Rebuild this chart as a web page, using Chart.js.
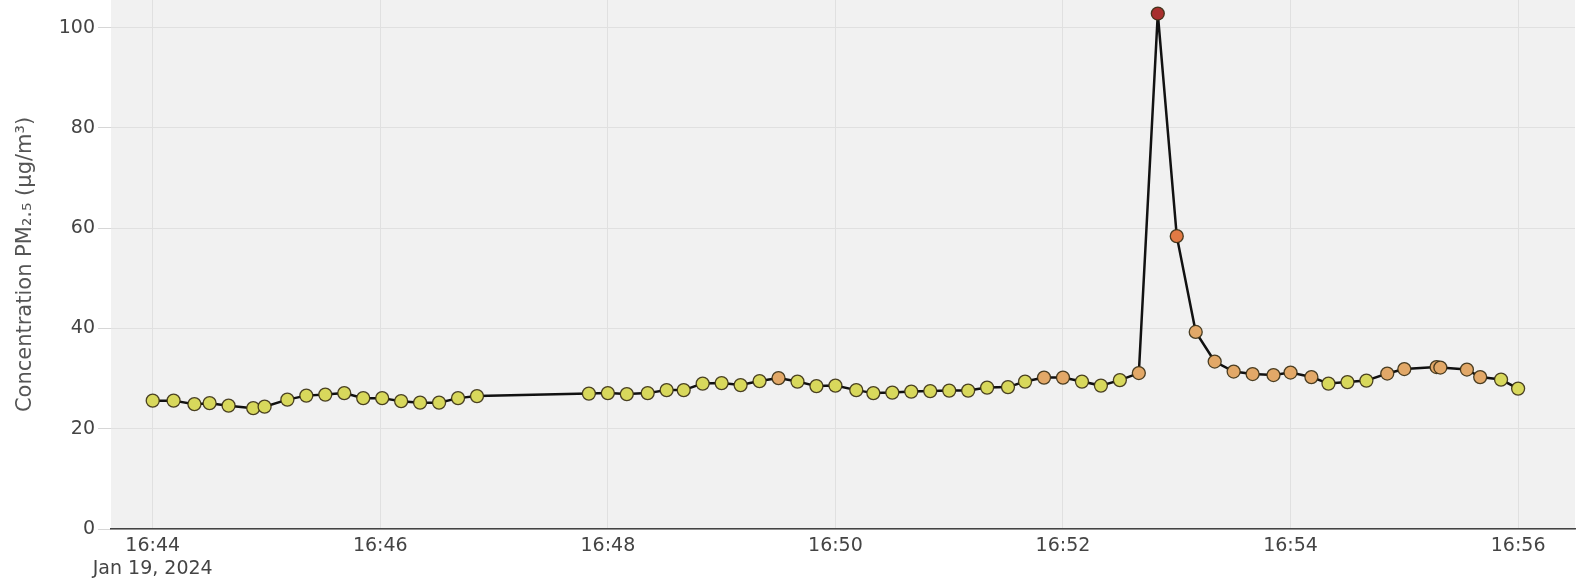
<!DOCTYPE html>
<html>
<head>
<meta charset="utf-8">
<script src="https://cdn.jsdelivr.net/npm/chart.js@4.4.1/dist/chart.umd.min.js"></script>
<style>
  html, body { margin: 0; padding: 0; background: #fff; }
  #wrap { width: 1585px; height: 585px; }
</style>
</head>
<body>
<div id="wrap"><canvas id="pmChart"></canvas></div>
<script>
    // readings, Jan 19 2024
    const times = [
        '16:44:00', '16:44:11', '16:44:22', '16:44:30', '16:44:40', '16:44:53', '16:44:59',
        '16:45:11', '16:45:21', '16:45:31', '16:45:41', '16:45:51', '16:46:01', '16:46:11',
        '16:46:21', '16:46:31', '16:46:41', '16:46:51',
        '16:47:50', '16:48:00', '16:48:10', '16:48:21', '16:48:31', '16:48:40', '16:48:50',
        '16:49:00', '16:49:10', '16:49:20', '16:49:30', '16:49:40', '16:49:50', '16:50:00',
        '16:50:11', '16:50:20', '16:50:30', '16:50:40', '16:50:50', '16:51:00', '16:51:10',
        '16:51:20', '16:51:31', '16:51:40', '16:51:50', '16:52:00', '16:52:10', '16:52:20',
        '16:52:30', '16:52:40', '16:52:50', '16:53:00', '16:53:10', '16:53:20', '16:53:30',
        '16:53:40', '16:53:51', '16:54:00', '16:54:11', '16:54:20', '16:54:30', '16:54:40',
        '16:54:51', '16:55:00', '16:55:17', '16:55:19', '16:55:33', '16:55:40', '16:55:51',
        '16:56:00'
    ];
    const pm25 = [
        25.6, 25.6, 24.9, 25.1, 24.6, 24.1, 24.4,
        25.8, 26.6, 26.8, 27.1, 26.1, 26.1, 25.5,
        25.2, 25.2, 26.1, 26.5,
        27.0, 27.1, 26.9, 27.1, 27.7, 27.7, 29.0,
        29.1, 28.7, 29.5, 30.1, 29.4, 28.5, 28.6,
        27.7, 27.1, 27.2, 27.4, 27.5, 27.6, 27.6,
        28.2, 28.3, 29.4, 30.2, 30.2, 29.4, 28.6,
        29.7, 31.1, 102.8, 58.4, 39.3, 33.4, 31.4,
        30.9, 30.7, 31.2, 30.3, 29.0, 29.3, 29.6,
        31.0, 31.9, 32.3, 32.2, 31.8, 30.3, 29.8,
        28.0
    ];
    const xTicks = ['16:44', '16:46', '16:48', '16:50', '16:52', '16:54', '16:56'];
    const dateLabel = 'Jan 19, 2024';
    const xRange = ['16:43:38', '16:56:30'];
    const yTicks = [0, 20, 40, 60, 80, 100];
    const yMax = 105.5;

    // marker colour bands (lower bound -> colour)
    const levelLimits = [0, 30, 50, 80];
    const levelColors = ['#d8d85c', '#e2a868', '#e27a44', '#a8302e'];

    function toSec(t) {
        const p = t.split(':').map(Number);
        return p[0] * 3600 + p[1] * 60 + (p[2] || 0);
    }

    function levelColor(v) {
        let c = levelColors[0];
        levelLimits.forEach((lim, i) => { if (v >= lim) c = levelColors[i]; });
        return c;
    }

    const points = times.map((t, i) => ({ x: toSec(t), y: pm25[i] }));
    const font = { family: 'DejaVu Sans', size: 19 };

    const plotBg = {
        id: 'plotBg',
        beforeDraw(chart) {
            const { ctx, chartArea: a } = chart;
            ctx.save();
            ctx.fillStyle = '#f1f1f1';
            ctx.fillRect(a.left, a.top, a.width, a.height);
            ctx.restore();
        }
    };

    const ctx = document.getElementById('pmChart').getContext('2d');
    const pmChart = new Chart(ctx, {
        type: 'line',
        data: {
            datasets: [{
                label: 'PM2.5',
                data: points,
                borderColor: '#111',
                borderWidth: 2.5,
                tension: 0,
                pointRadius: 6.5,
                pointHoverRadius: 6.5,
                pointBorderWidth: 1.3,
                pointBorderColor: 'rgba(55, 45, 20, 0.9)',
                pointBackgroundColor: points.map(p => levelColor(p.y))
            }]
        },
        plugins: [plotBg],
        options: {
            responsive: true,
            maintainAspectRatio: false,
            animation: false,
            layout: {
                autoPadding: false,
                padding: { top: 0, right: 10, bottom: 0, left: 0 }
            },
            scales: {
                x: {
                    type: 'linear',
                    min: toSec(xRange[0]),
                    max: toSec(xRange[1]),
                    afterFit(scale) {
                        scale.height = 56;
                        scale.paddingLeft = 0;
                        scale.paddingRight = 0;
                    },
                    afterBuildTicks(scale) {
                        scale.ticks = xTicks.map(t => ({ value: toSec(t) }));
                    },
                    ticks: {
                        autoSkip: false,
                        maxRotation: 0,
                        padding: 6,
                        color: '#444',
                        font: font,
                        callback: function(value, index) {
                            return index === 0 ? [xTicks[index], dateLabel] : xTicks[index];
                        }
                    },
                    grid: { color: '#e0e0e0', drawTicks: false },
                    border: { display: true, color: '#444', width: 1.5 }
                },
                y: {
                    min: 0,
                    max: yMax,
                    afterFit(scale) {
                        scale.width = 111;
                        scale.paddingTop = 0;
                        scale.paddingBottom = 0;
                    },
                    afterBuildTicks(scale) {
                        scale.ticks = yTicks.map(v => ({ value: v }));
                    },
                    ticks: { color: '#444', font: font, padding: 3 },
                    grid: { color: '#e0e0e0', tickColor: '#d6d6d6', tickLength: 13 },
                    border: { display: false },
                    title: {
                        display: true,
                        text: 'Concentration PM₂.₅ (µg/m³)',
                        color: '#555',
                        font: { family: 'DejaVu Sans', size: 21 },
                        padding: { top: 13, bottom: 0 }
                    }
                }
            },
            plugins: {
                legend: { display: false },
                tooltip: {
                    callbacks: {
                        label: function(context) {
                            return context.raw.y + ' µg/m³';
                        }
                    }
                }
            }
        }
    });
</script>
</body>
</html>
